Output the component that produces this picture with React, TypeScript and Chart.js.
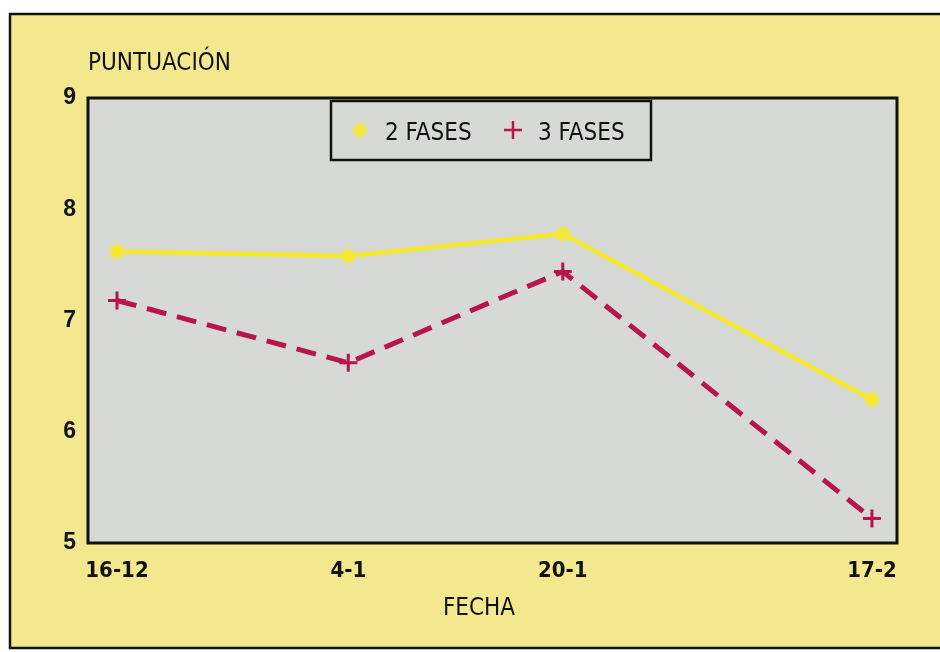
import React, { useEffect, useRef } from "react";
import { Chart, registerables } from "chart.js";
import { drawPoint } from "chart.js/helpers";

Chart.register(...registerables);

// ---- data ----
const categories = ["16-12", "4-1", "20-1", "17-2"];
const xPositions = [0, 19.3, 37.2, 63];
const fases2 = [7.62, 7.58, 7.78, 6.29];
const fases3 = [7.18, 6.62, 7.44, 5.22];
const yTicks = [5, 6, 7, 8, 9];
const seriesNames = ["2 FASES", "3 FASES"];
const yTitle = "PUNTUACIÓN";
const xTitle = "FECHA";

const NARROW = "'Liberation Sans Narrow', 'DejaVu Sans Condensed', 'Liberation Sans', sans-serif";
const YELLOW_BG = "#f3e88e";
const GREY = "#d7d9d6";
const YELLOW_LINE = "#f6e92c";
const CRIMSON = "#b8154a";

const framePlugin = {
  id: "frame",
  beforeDraw(chart: any) {
    const { ctx, chartArea: a, width, height } = chart;
    ctx.save();
    ctx.fillStyle = "#ffffff";
    ctx.fillRect(0, 0, width, height);
    ctx.fillStyle = YELLOW_BG;
    ctx.fillRect(9, 13, width - 9, 636);
    ctx.strokeStyle = "#111";
    ctx.lineWidth = 2.5;
    ctx.beginPath();
    ctx.moveTo(width, 14);
    ctx.lineTo(10, 14);
    ctx.lineTo(10, 648);
    ctx.lineTo(width, 648);
    ctx.stroke();
    ctx.fillStyle = GREY;
    ctx.fillRect(a.left, a.top, a.right - a.left, a.bottom - a.top);
    // titles
    ctx.fillStyle = "#111";
    ctx.font = `24px ${NARROW}`;
    ctx.textAlign = "left";
    ctx.textBaseline = "alphabetic";
    ctx.fillText(yTitle, 88, 70);
    ctx.textAlign = "center";
    ctx.fillText(xTitle, 479, 615);
    ctx.restore();
  },
  afterDraw(chart: any) {
    const { ctx, chartArea: a } = chart;
    ctx.save();
    ctx.strokeStyle = "#111";
    ctx.lineWidth = 3;
    ctx.strokeRect(a.left, a.top, a.right - a.left, a.bottom - a.top);
    // legend box
    ctx.fillStyle = GREY;
    ctx.fillRect(331, 101, 320, 59);
    ctx.lineWidth = 2.5;
    ctx.strokeRect(331, 101, 320, 59);
    const ds = chart.data.datasets;
    const items = [
      { x: 360, tx: 385 },
      { x: 513, tx: 538 },
    ];
    items.forEach((it, i) => {
      const d = ds[i];
      ctx.strokeStyle = d.borderColor;
      ctx.fillStyle = d.borderColor;
      drawPoint(
        ctx,
        { pointStyle: d.pointStyle, radius: d.pointRadius, rotation: 0, borderWidth: d.pointBorderWidth },
        it.x,
        130
      );
      ctx.fillStyle = "#111";
      ctx.font = `24px ${NARROW}`;
      ctx.textAlign = "left";
      ctx.fillText(seriesNames[i], it.tx, 140);
    });
    ctx.restore();
  },
};

export default function App() {
  const ref = useRef<HTMLCanvasElement>(null);
  useEffect(() => {
    document.body.style.margin = "0";
    const chart = new Chart(ref.current!, {
      type: "line",
      data: {
        datasets: [
          {
            label: seriesNames[0],
            data: xPositions.map((x, i) => ({ x, y: fases2[i] })),
            borderColor: YELLOW_LINE,
            backgroundColor: YELLOW_LINE,
            borderWidth: 4.5,
            pointStyle: "star",
            pointRadius: 8,
            pointBorderWidth: 3,
            tension: 0,
          },
          {
            label: seriesNames[1],
            data: xPositions.map((x, i) => ({ x, y: fases3[i] })),
            borderColor: CRIMSON,
            backgroundColor: CRIMSON,
            borderWidth: 5,
            borderDash: [20, 11],
            pointStyle: "cross",
            pointRadius: 9,
            pointBorderWidth: 3,
            tension: 0,
          },
        ],
      },
      options: {
        responsive: false,
        animation: false,
        devicePixelRatio: 1,
        layout: { padding: { left: 0, top: 98, right: 43, bottom: 0 } },
        plugins: { legend: { display: false }, tooltip: { enabled: false } },
        scales: {
          x: {
            type: "linear",
            min: -2.42,
            max: 65.09,
            grid: { display: false, drawTicks: false },
            border: { display: false },
            afterBuildTicks: (s: any) => {
              s.ticks = xPositions.map((v) => ({ value: v }));
            },
            afterFit: (s: any) => {
              s.height = 109;
            },
            ticks: {
              autoSkip: false,
              maxRotation: 0,
              padding: 15,
              color: "#111",
              font: { family: NARROW, size: 22, weight: "bold" },
              callback: (v: any) => {
                const i = xPositions.indexOf(Number(v));
                return i >= 0 ? categories[i] : "";
              },
            },
          },
          y: {
            min: 5,
            max: 9,
            grid: { display: false, drawTicks: false },
            border: { display: false },
            afterBuildTicks: (s: any) => {
              s.ticks = yTicks.map((v) => ({ value: v }));
            },
            afterFit: (s: any) => {
              s.width = 88;
            },
            ticks: {
              padding: 12,
              color: "#111",
              font: { family: "'Liberation Sans', sans-serif", size: 23, weight: "bold" },
            },
          },
        },
      },
      plugins: [framePlugin],
    });
    return () => chart.destroy();
  }, []);
  return (
    <div style={{ width: 940, height: 652 }}>
      <canvas ref={ref} width={940} height={652} />
    </div>
  );
}
